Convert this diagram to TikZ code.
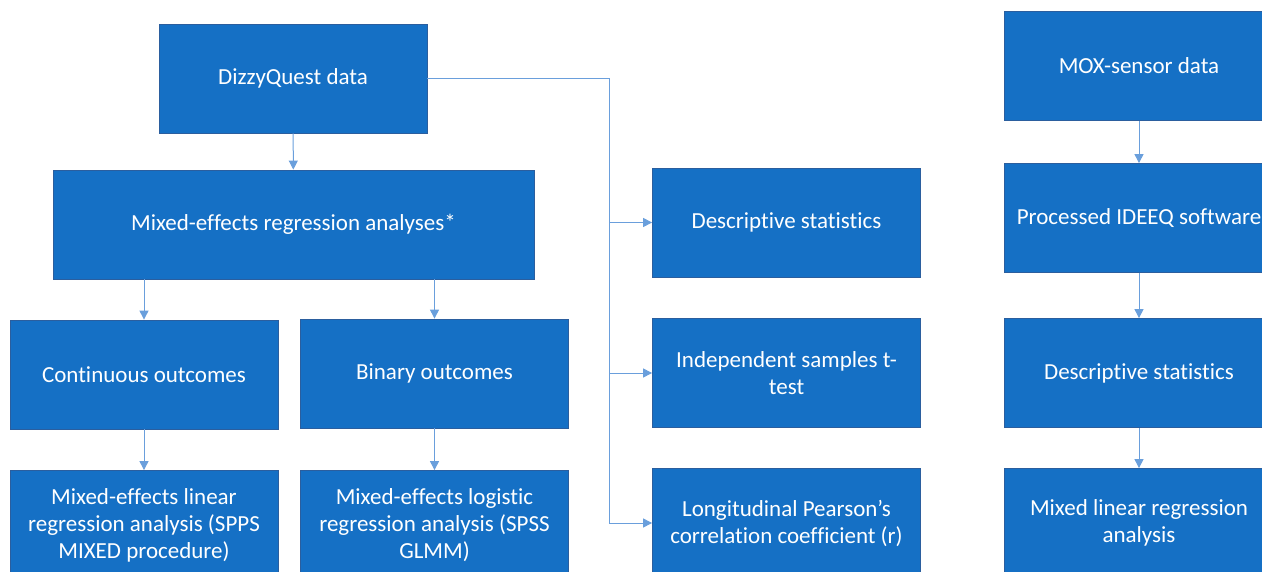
\documentclass[tikz,border=0pt]{standalone}
\usepackage{fontspec}
\setmainfont{Carlito}[Ligatures=NoCommon]
\usetikzlibrary{arrows.meta}

\definecolor{boxfill}{HTML}{1570C5}
\definecolor{boxline}{HTML}{2B5E9E}
\definecolor{linkblue}{HTML}{6A9FDC}

\begin{document}
\begin{tikzpicture}[x=1pt, y=-1pt,
		box/.style={rectangle, draw=boxline, line width=0.8pt, fill=boxfill, text=white, minimum width=268pt, minimum height=109pt, inner sep=0pt, align=center, font=\fontsize{23}{27}\selectfont},
		line/.style={draw=linkblue, line width=1pt},
		link/.style={line, -{Triangle[length=9pt, width=9pt]}}]
		\useasboundingbox (0,0) rectangle (1262,572);
		
		% DizzyQuest data and regression
		\node[box] (dizzy) at (293,78.5) {DizzyQuest data};
		\node[box, minimum width=481pt] (mixed) at (293.5,224.5) {Mixed-effects regression analyses*};
		\node[box] (cont) at (144,374.5) {Continuous outcomes};
		\node[box] (binary) at (434.5,373.5) {Binary outcomes};
		\node[box] (linear) at (144,525) {Mixed-effects linear\\regression analysis (SPPS\\MIXED procedure)};
		\node[box] (logistic) at (434.5,525) {Mixed-effects logistic\\regression analysis (SPSS\\GLMM)};
		
		% Other analyses
		\node[box] (desc) at (786.5,222.5) {Descriptive statistics};
		\node[box] (ttest) at (786.5,373) {Independent samples t-\\test};
		\node[box] (pearson) at (786.5,523) {Longitudinal Pearson’s\\correlation coefficient (r)};
		
		% MOX-sensor data
		\node[box, minimum width=270pt] (mox) at (1139,66) {MOX-sensor data};
		\node[box, minimum width=270pt] (ideeq) at (1139,218) {Processed IDEEQ software};
		\node[box, minimum width=270pt] (moxdesc) at (1139,373) {Descriptive statistics};
		\node[box, minimum width=270pt] (moxreg) at (1139,523) {Mixed linear regression\\analysis};
		
		% Connect boxes
		\draw[link] (dizzy) -- (mixed);
		\draw[link] (mixed.south -| cont) -- (cont);
		\draw[link] (mixed.south -| binary) -- (binary);
		\draw[link] (cont) -- (linear);
		\draw[link] (binary) -- (logistic);
		
		\coordinate (spine) at (609,78.5);
		\draw[line] (dizzy.east) -- (spine) -- (spine |- pearson.west);
		\foreach \n in {desc, ttest, pearson}
			\draw[link] (spine |- \n.west) -- (\n.west);
		
		\draw[link] (mox) -- (ideeq);
		\draw[link] (ideeq) -- (moxdesc);
		\draw[link] (moxdesc) -- (moxreg);
	\end{tikzpicture}
\end{document}
